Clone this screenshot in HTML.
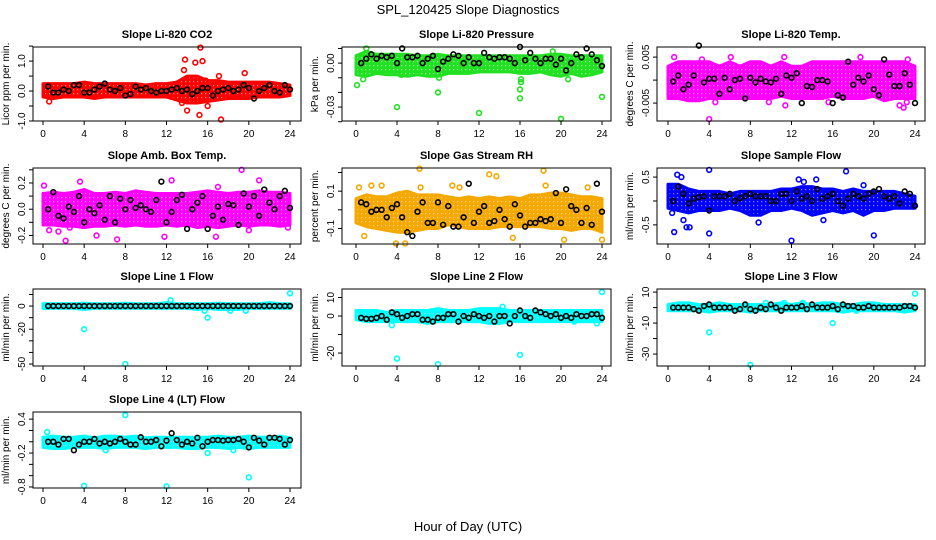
<!DOCTYPE html>
<html><head><meta charset="utf-8">
<style>
body{margin:0;background:#fff;}
svg{display:block;font-family:"Liberation Sans",sans-serif;}
</style></head>
<body>
<svg id="chart" width="936" height="540" viewBox="0 0 936 540" xmlns="http://www.w3.org/2000/svg">
<rect width="936" height="540" fill="#fff"/>
<text x="468" y="14" text-anchor="middle" font-size="13">SPL_120425  Slope Diagnostics</text>
<text x="468" y="531" text-anchor="middle" font-size="13">Hour of Day (UTC)</text>
</svg>
<script>
const hours = [0.5,1,1.5,2,2.5,3,3.5,4,4.5,5,5.5,6,6.5,7,7.5,8,8.5,9,9.5,10,10.5,11,11.5,12,12.5,13,13.5,14,14.5,15,15.5,16,16.5,17,17.5,18,18.5,19,19.5,20,20.5,21,21.5,22,22.5,23,23.5,24];
const bandHours = [0,1,2,3,4,5,6,7,8,9,10,11,12,13,14,15,16,17,18,19,20,21,22,23,24];
const xTicks = [0,4,8,12,16,20,24];

const titles = ["Slope Li-820 CO2","Slope Li-820 Pressure","Slope Li-820 Temp.","Slope Amb. Box Temp.","Slope Gas Stream RH","Slope Sample Flow","Slope Line 1 Flow","Slope Line 2 Flow","Slope Line 3 Flow","Slope Line 4 (LT) Flow"];
const yTitles = ["Licor ppm per min.","kPa per min.","degrees C per min.","degrees C per min.","percent per min.","ml/min per min.","ml/min per min.","ml/min per min.","ml/min per min.","ml/min per min."];

const blackCO2 = [0.15,-0.05,-0.05,0.05,0.0,0.2,0.2,-0.05,-0.05,0.05,0.15,0.25,0.05,0.0,0.1,-0.15,-0.1,0.15,0.05,0.1,0.0,-0.05,0.0,0.0,0.05,0.1,0.0,0.05,-0.1,0.0,0.1,0.1,-0.15,0.0,0.05,0.1,0.0,0.05,0.2,0.1,-0.25,0.0,0.1,0.2,0.0,-0.05,0.2,0.05];
const hiCO2 = [0.25,0.25,0.25,0.25,0.3,0.25,0.25,0.25,0.25,0.25,0.2,0.25,0.25,0.3,0.5,0.5,0.35,0.35,0.3,0.3,0.3,0.3,0.3,0.25,0.2];
const loCO2 = [-0.2,-0.25,-0.2,-0.2,-0.2,-0.25,-0.2,-0.2,-0.2,-0.2,-0.2,-0.2,-0.2,-0.3,-0.4,-0.4,-0.35,-0.3,-0.25,-0.25,-0.25,-0.2,-0.2,-0.2,-0.15];
const outXCO2 = [13.8,13.7,14.8,15.3,15.5,15.2,14.0,17.3,19.6,17.1,16.0,0.6,13.5,15.8];
const outYCO2 = [1.05,0.7,0.95,1.45,1.0,-0.8,-0.65,-0.95,0.6,0.5,-0.5,-0.35,-0.4,0.35];

const blackPres = [0.0,0.003,0.006,0.003,0.005,0.004,0.005,0.0,0.01,0.004,0.004,0.005,0.0,0.003,0.005,-0.004,0.001,0.003,0.006,0.005,0.0,0.004,0.0,0.0,0.007,0.004,0.003,0.004,0.004,0.003,0.0,0.011,0.002,0.007,0.003,0.0,0.003,0.003,-0.001,0.003,-0.005,0.0,0.006,0.004,0.01,0.006,0.002,-0.002];
const hiPres = [0.005,0.008,0.006,0.006,0.006,0.006,0.005,0.005,0.006,0.005,0.005,0.005,0.005,0.005,0.005,0.005,0.005,0.005,0.005,0.006,0.006,0.005,0.005,0.005,0.005];
const loPres = [-0.008,-0.009,-0.007,-0.008,-0.008,-0.009,-0.008,-0.009,-0.009,-0.007,-0.007,-0.007,-0.006,-0.006,-0.006,-0.006,-0.007,-0.007,-0.006,-0.008,-0.009,-0.007,-0.009,-0.008,-0.006];
const outXPres = [0.1,1.0,0.7,4.0,8.0,8.1,12.0,16.0,16.0,16.1,16.1,20.0,24.0,19.2,20.7,4.4];
const outYPres = [-0.015,0.01,-0.011,-0.030,-0.02,-0.01,-0.034,-0.018,-0.024,-0.011,-0.013,-0.038,-0.023,0.008,-0.011,-0.008];

const blackTemp = [-0.0003,0.001,-0.002,-0.001,0.001,0.0075,-0.0005,0.0003,0.0003,-0.003,0.0005,-0.002,0.0,0.0003,-0.004,0.0005,-0.0005,0.0003,-0.0003,-0.0005,0.0003,-0.003,0.001,0.0005,0.0015,-0.005,-0.0013,-0.0015,0.0,0.0,-0.0003,-0.005,-0.0033,-0.0038,0.004,-0.001,0.0005,-0.0003,0.001,-0.002,-0.0033,0.0045,0.0012,-0.0013,-0.0013,0.0015,-0.001,-0.005];
const hiTemp = [0.003,0.004,0.004,0.004,0.004,0.003,0.004,0.003,0.004,0.004,0.003,0.004,0.003,0.003,0.004,0.004,0.004,0.004,0.004,0.004,0.004,0.004,0.004,0.004,0.003];
const loTemp = [-0.004,-0.004,-0.0045,-0.0045,-0.004,-0.004,-0.004,-0.004,-0.004,-0.004,-0.004,-0.0035,-0.004,-0.004,-0.004,-0.004,-0.0035,-0.004,-0.004,-0.004,-0.0035,-0.0045,-0.004,-0.004,-0.004];
const outXTemp = [0.6,4.0,6.1,11.3,11.4,3.3,18.7,22.5,22.9,23.3,4.6,9.8,15.6,23.2];
const outYTemp = [0.005,-0.0085,0.005,0.005,-0.0055,0.0045,0.005,-0.0055,-0.006,0.0045,-0.0048,-0.0048,-0.0048,-0.0048];

const blackAmb = [0.0,0.13,-0.05,-0.07,0.02,-0.02,0.1,-0.1,0.0,-0.03,0.03,-0.08,0.1,-0.1,0.08,0.0,0.07,0.01,0.03,0.0,-0.02,0.07,0.21,-0.1,-0.02,0.07,0.11,-0.15,0.0,0.05,0.1,-0.15,-0.05,0.02,-0.08,0.04,0.03,-0.12,0.12,0.02,0.1,-0.05,0.15,0.05,0.0,0.1,0.14,0.01];
const hiAmb = [0.12,0.13,0.12,0.13,0.15,0.12,0.12,0.13,0.12,0.14,0.13,0.12,0.12,0.12,0.12,0.13,0.14,0.13,0.12,0.13,0.13,0.14,0.13,0.13,0.12];
const loAmb = [-0.12,-0.12,-0.13,-0.13,-0.14,-0.13,-0.13,-0.12,-0.13,-0.12,-0.13,-0.13,-0.12,-0.13,-0.12,-0.14,-0.13,-0.14,-0.13,-0.12,-0.13,-0.12,-0.12,-0.13,-0.12];
const outXAmb = [0.1,0.6,1.5,2.2,3.6,5.2,7.2,11.8,12.5,16.8,19.3,20.0,21.0,23.8,17.0,2.6];
const outYAmb = [0.18,-0.16,-0.17,-0.24,0.21,-0.2,-0.23,-0.21,0.22,-0.21,0.3,-0.16,0.22,-0.14,0.17,-0.14];

const blackRH = [0.04,0.03,-0.01,0.0,0.0,-0.04,0.01,0.03,-0.04,-0.12,-0.14,-0.01,0.04,-0.07,-0.07,0.04,-0.08,0.02,-0.09,-0.09,-0.04,0.14,-0.07,-0.01,0.02,-0.07,-0.06,0.0,-0.05,-0.09,0.03,-0.03,-0.09,-0.07,-0.07,-0.05,-0.06,-0.05,0.09,-0.07,0.11,0.02,0.0,-0.07,0.01,-0.08,0.14,-0.01];
const hiRH = [0.06,0.08,0.07,0.07,0.09,0.1,0.08,0.08,0.08,0.07,0.06,0.07,0.06,0.07,0.06,0.07,0.06,0.08,0.08,0.09,0.09,0.08,0.07,0.07,0.06];
const loRH = [-0.07,-0.09,-0.1,-0.11,-0.12,-0.12,-0.11,-0.1,-0.1,-0.08,-0.09,-0.1,-0.1,-0.1,-0.09,-0.09,-0.09,-0.09,-0.09,-0.1,-0.1,-0.11,-0.1,-0.1,-0.12];
const outXRH = [0.3,0.8,1.5,2.5,3.9,4.8,6.2,6.3,9.4,13.0,13.7,15.3,18.3,18.5,20.3,22.6,24.0,10.1];
const outYRH = [0.12,-0.14,0.13,0.13,-0.18,-0.18,0.22,0.12,0.13,0.19,0.18,-0.15,0.21,0.13,-0.16,0.12,-0.16,0.12];

const blackFlow = [0.0,0.3,0.15,-0.05,0.05,0.08,0.1,-0.2,0.1,0.1,0.1,0.15,0.0,0.06,0.1,0.15,0.1,0.1,0.1,0.0,0.0,0.15,0.15,0.0,0.2,0.05,0.1,0.0,0.25,0.05,0.1,0.15,0.0,-0.1,0.05,0.15,0.1,0.05,0.15,0.2,0.25,0.1,0.05,0.1,-0.05,0.2,0.15,-0.1];
const hiFlow = [0.35,0.35,0.25,0.2,0.2,0.2,0.15,0.2,0.2,0.2,0.2,0.25,0.25,0.3,0.3,0.25,0.25,0.2,0.25,0.2,0.2,0.2,0.2,0.15,0.1];
const loFlow = [-0.15,-0.2,-0.25,-0.2,-0.2,-0.2,-0.15,-0.2,-0.3,-0.3,-0.2,-0.2,-0.15,-0.2,-0.3,-0.25,-0.2,-0.25,-0.2,-0.3,-0.2,-0.2,-0.15,-0.15,-0.15];
const outXFlow = [0.6,0.4,0.9,1.3,1.5,1.8,2.1,4.0,4.0,8.8,12.0,12.7,14.4,17.3,19.0,20.0,15.1,13.2];
const outYFlow = [-0.65,-0.25,0.55,0.5,-0.4,-0.55,-0.55,0.65,-0.68,-0.45,-0.83,0.45,0.45,0.62,0.33,-0.72,-0.4,0.4];

const blackL1 = [0,0,0,0,0,0,0,0,0,0,0,0,0,0,0,0,0,0,0,0,0,0,0,0,0,0,0,0,0,0,0,0,0,0,0,0,0,0,0,0,0,0,0,0,0,0,0,0];
const hiL1 = [2,2,2,2,2.5,2,2,2,2.5,2,2,2,3,2,2,2,2,2.5,2,2,2,2,3,2,2];
const loL1 = [-2,-2,-2,-2,-3,-2,-2,-2,-2,-2,-2,-2,-2,-2,-2,-3,-2,-3,-3,-3,-2,-2,-2,-2,-2];
const outXL1 = [4.0,8.0,16.0,24.0,12.4,15.7,18.2,19.7];
const outYL1 = [-20,-50,-10,11,5,-4,-4,-4];

const blackL2 = [-1,-1.5,-1.5,-1,0,-2,2,1,-1,0,1,1,-2,-2,-3,-1,-1,1,1,-3,0,-1,1,0,-1,0,-3,0,0,-4,0,3,0,-1,3,2,1,0,1,-1,0,-1,1,0,0,1,1,-1];
const hiL2 = [3,3,3,2,3,3,3,3,4,3,3,3,4,4,4,3,3,3,3,3,3,3,3,3,3];
const loL2 = [-2,-3,-3,-3,-3,-3,-3,-4,-3,-3,-3,-3,-3,-4,-4,-3,-3,-3,-3,-3,-3,-3,-3,-3,-3];
const outXL2 = [4.0,8.0,16.0,24.0,3.5,14.3,21.3,23.5];
const outYL2 = [-23,-26,-21,13,-5,5,-3,-4];

const blackL3 = [0,0,0,0,-1,-2,1,2,0,0,0,0,-2,-1,2,-1,-2,0,-1,2,0,-2,0,0,0,1,-1,2,0,0,0,1,-1,2,1,1,0,0,1,0,0,0,0,0,0,1,1,0];
const hiL3 = [2,3,3,2,2,3,2,2,2,2,2,3,2,3,2,3,3,2,2,3,3,2,2,2,2];
const loL3 = [-2,-2,-2,-2,-3,-2,-2,-2,-3,-2,-2,-2,-2,-2,-2,-2,-2,-3,-2,-2,-2,-2,-2,-3,-2];
const outXL3 = [4.0,8.0,16.0,24.0,11.3,13.1,9.5,18.3];
const outYL3 = [-16,-37,-10,9,3,3,3,-2];

const blackL4 = [0.0,0.0,-0.05,0.05,0.05,-0.15,-0.05,0.0,0.0,0.05,-0.03,0.0,-0.03,0.0,0.05,0.0,-0.05,-0.05,0.08,0.0,0.0,0.03,-0.08,0.02,0.15,0.03,-0.05,0.0,-0.03,0.07,-0.08,0.0,0.03,0.03,0.02,0.03,0.03,0.05,0.0,-0.1,0.07,0.02,-0.05,0.07,0.07,0.05,-0.05,0.03];
const hiL4 = [0.08,0.1,0.08,0.08,0.1,0.07,0.1,0.1,0.08,0.1,0.07,0.08,0.08,0.08,0.08,0.08,0.08,0.1,0.08,0.08,0.1,0.08,0.08,0.1,0.07];
const loL4 = [-0.1,-0.12,-0.12,-0.1,-0.1,-0.1,-0.12,-0.1,-0.1,-0.1,-0.12,-0.1,-0.1,-0.1,-0.12,-0.12,-0.1,-0.1,-0.12,-0.1,-0.12,-0.1,-0.1,-0.1,-0.1];
const outXL4 = [4.0,8.0,12.0,20.0,0.4,16.0,6.1,18.5];
const outYL4 = [-0.78,0.47,-0.79,-0.63,0.17,-0.2,-0.15,-0.15];

const yTicks = [[-1,-0.5,0,0.5,1,1.5],[-0.04,-0.03,-0.02,-0.01,0,0.01],[-0.005,0,0.005],[-0.2,-0.1,0,0.1,0.2,0.3],[-0.1,0,0.1,0.2],[-0.5,0,0.5],[-50,-40,-30,-20,-10,0,10],[-20,-10,0,10],[-30,-20,-10,0,10],[-0.8,-0.6,-0.4,-0.2,0,0.2,0.4]];
const yTickLabels = [["-1.0","","0.0","","1.0",""],["","-0.03","","","0.00",""],["-0.005","","0.005"],["-0.2","","0.0","","0.2",""],["-0.1","","0.1",""],["-0.5","","0.5"],["-50","","","-20","","0",""],["-20","","0","10"],["-30","","-10","","10"],["-0.8","","","-0.2","","","0.4"]];

const panelData = [
 {black:blackCO2,hi:hiCO2,lo:loCO2,ox:outXCO2,oy:outYCO2},
 {black:blackPres,hi:hiPres,lo:loPres,ox:outXPres,oy:outYPres},
 {black:blackTemp,hi:hiTemp,lo:loTemp,ox:outXTemp,oy:outYTemp},
 {black:blackAmb,hi:hiAmb,lo:loAmb,ox:outXAmb,oy:outYAmb},
 {black:blackRH,hi:hiRH,lo:loRH,ox:outXRH,oy:outYRH},
 {black:blackFlow,hi:hiFlow,lo:loFlow,ox:outXFlow,oy:outYFlow},
 {black:blackL1,hi:hiL1,lo:loL1,ox:outXL1,oy:outYL1},
 {black:blackL2,hi:hiL2,lo:loL2,ox:outXL2,oy:outYL2},
 {black:blackL3,hi:hiL3,lo:loL3,ox:outXL3,oy:outYL3},
 {black:blackL4,hi:hiL4,lo:loL4,ox:outXL4,oy:outYL4}
];

// layout (not data)
const cols = [{x0:43,x24:290,l:33,r:301},{x0:356,x24:602,l:342,r:611},{x0:668,x24:915,l:657,r:925}];
const rows = [{t:47,b:121},{t:168,b:244},{t:289,b:366},{t:412,b:488}];
const yDomains = [[-1.0,1.47],[-0.0395,0.011],[-0.0089,0.0072],[-0.265,0.314],[-0.183,0.224],[-0.9,0.69],[-51.7,14.7],[-27,14.6],[-37.7,12],[-0.818,0.526]];
const colors = ["#ff0000","#22e022","#ff00ff","#ff00ff","#f5a800","#0000ff","#00ffff","#00ffff","#00ffff","#00ffff"];

const NS = "http://www.w3.org/2000/svg";
const svg = document.getElementById('chart');
function mk(tag, attrs, parent){ const e=document.createElementNS(NS,tag); for(const k in attrs) e.setAttribute(k,attrs[k]); (parent||svg).appendChild(e); return e; }
const defs = mk('defs',{});

panelData.forEach((d,i)=>{
  const c = cols[i%3], r = rows[Math.floor(i/3)];
  const dom = yDomains[i];
  const xs = h => c.x0 + (c.x24-c.x0)*h/24;
  const ys = v => r.b - (r.b-r.t)*(v-dom[0])/(dom[1]-dom[0]);
  // texture pattern
  const pat = mk('pattern',{id:'pat'+i,width:4,height:4,patternUnits:'userSpaceOnUse'},defs);
  mk('rect',{width:4,height:4,fill:colors[i]},pat);
  mk('rect',{x:1,y:1,width:1.2,height:1.2,fill:'#fff','fill-opacity':0.55},pat);
  const g = mk('g',{});
  
  
  const clipId='clip'+i;
  const cp = mk('clipPath',{id:clipId},g);
  mk('rect',{x:c.l,y:r.t-3,width:c.r-c.l,height:r.b-r.t+6},cp);
  const title = mk('text',{x:(c.l+c.r)/2,y:r.t-9,'text-anchor':'middle','font-size':11,'font-weight':'bold'},g);
  title.textContent = titles[i];
  
  
  const yt = mk('text',{transform:`translate(${c.l-24},${(r.t+r.b)/2}) rotate(-90)`,'text-anchor':'middle','font-size':10},g);
  yt.textContent = yTitles[i];
  
  
  const pts = [];
  d.hi.forEach((v,k)=>pts.push(xs(bandHours[k]).toFixed(1)+','+ys(v).toFixed(1)));
  for(let k=d.lo.length-1;k>=0;k--) pts.push(xs(bandHours[k]).toFixed(1)+','+ys(d.lo[k]).toFixed(1));
  const band = mk('polygon',{points:pts.join(' '),fill:`url(#pat${i})`,stroke:colors[i],'stroke-width':3,'stroke-linejoin':'round','clip-path':`url(#${clipId})`},g);
  
  
  d.ox.forEach((h,k)=>{
    const p = mk('circle',{cx:xs(h),cy:ys(d.oy[k]),r:2.4,fill:'none',stroke:colors[i],'stroke-width':1.6,'clip-path':`url(#${clipId})`},g);
    
    
  });
  d.black.forEach((v,k)=>{
    const p = mk('circle',{cx:xs(hours[k]),cy:ys(v),r:2.4,fill:'none',stroke:'#000','stroke-width':1.6},g);
    
    
  });
  const box = mk('rect',{x:c.l,y:r.t,width:c.r-c.l,height:r.b-r.t,fill:'none',stroke:'#000','stroke-width':1},g);
  
  
  xTicks.forEach(h=>{
    mk('line',{x1:xs(h),x2:xs(h),y1:r.b,y2:r.b+4,stroke:'#000'},g);
    const t = mk('text',{x:xs(h),y:r.b+16,'text-anchor':'middle','font-size':10},g);
    t.textContent = h;
    
    
  });
  yTicks[i].forEach((v,k)=>{
    const y = ys(v);
    mk('line',{x1:c.l-4,x2:c.l,y1:y,y2:y,stroke:'#000'},g);
    const lab = yTickLabels[i][k];
    if(lab){
      const t = mk('text',{transform:`translate(${c.l-8},${y}) rotate(-90)`,'text-anchor':'middle','font-size':10},g);
      t.textContent = lab;
      
      
    }
  });
});
</script>
</body></html>
